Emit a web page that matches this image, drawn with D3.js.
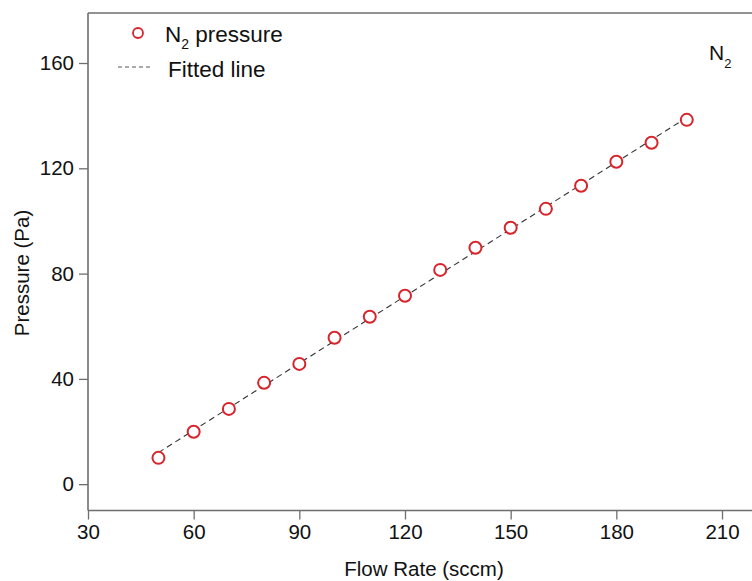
<!DOCTYPE html>
<html>
<head>
<meta charset="utf-8">
<script src="https://cdn.jsdelivr.net/npm/d3@7"></script>
<style>
  html, body { margin: 0; padding: 0; background: #fff; }
  svg { display: block; font-family: "Liberation Sans", Arial, sans-serif; }
</style>
</head>
<body>
<svg id="chart" width="752" height="581"></svg>
<script>
// Flow rate (sccm) and measured N2 pressure (Pa)
const flowRate = [50, 60, 70, 80, 90, 100, 110, 120, 130, 140, 150, 160, 170, 180, 190, 200];
const pressure = [10.0, 19.9, 28.6, 38.5, 45.7, 55.6, 63.6, 71.6, 81.4, 89.8, 97.4, 104.6, 113.4, 122.5, 129.7, 138.4];

// Linear fit end points
const fitFlow = [50, 200];
const fitPressure = [12.0, 139.3];

const xTicks = [30, 60, 90, 120, 150, 180, 210];
const yTicks = [0, 40, 80, 120, 160];

const W = 752, H = 581;
const svg = d3.select("#chart");

const x = d3.scaleLinear().domain([30, 210]).range([88, 722]);
const y = d3.scaleLinear().domain([-10, 179]).range([510.5, 13]);

const axisColor = "#6e6e6e";
const red = "#d9232b";

// Axes
const gx = svg.append("g")
  .attr("transform", `translate(0,${y(-10)})`)
  .call(d3.axisBottom(x).tickValues(xTicks).tickSize(9).tickPadding(5).tickFormat(d3.format("d")));
const gy = svg.append("g")
  .attr("transform", `translate(${x(30)},0)`)
  .call(d3.axisLeft(y).tickValues(yTicks).tickSize(9).tickPadding(5).tickFormat(d3.format("d")));
[gx, gy].forEach(g => {
  g.select(".domain").remove();
  g.selectAll(".tick line").attr("stroke", axisColor).attr("stroke-width", 1.3);
  g.selectAll(".tick text").attr("fill", "#111").style("font-size", "20.5px");
});

// Frame lines: left, bottom, top
const frame = svg.append("g").attr("stroke", axisColor).attr("stroke-width", 1.6).attr("fill", "none");
frame.append("line").attr("x1", x(30)).attr("x2", x(30)).attr("y1", y(179)).attr("y2", y(-10));
frame.append("line").attr("x1", x(30)).attr("x2", W).attr("y1", y(-10)).attr("y2", y(-10));
frame.append("line").attr("x1", x(30)).attr("x2", W).attr("y1", y(179)).attr("y2", y(179));

// Fitted line
const fitData = fitFlow.map((f, i) => [f, fitPressure[i]]);
svg.append("path")
  .datum(fitData)
  .attr("fill", "none")
  .attr("stroke", "#333")
  .attr("stroke-width", 1.1)
  .attr("stroke-dasharray", "6,4")
  .attr("d", d3.line().x(d => x(d[0])).y(d => y(d[1])));

// Measured points
svg.append("g").selectAll("circle")
  .data(flowRate.map((f, i) => [f, pressure[i]]))
  .join("circle")
  .attr("cx", d => x(d[0]))
  .attr("cy", d => y(d[1]))
  .attr("r", 6)
  .attr("fill", "#fff")
  .attr("stroke", red)
  .attr("stroke-width", 2);

// Axis titles
svg.append("text")
  .attr("x", 424).attr("y", 576)
  .attr("text-anchor", "middle")
  .style("font-size", "20.5px").attr("fill", "#111")
  .text("Flow Rate (sccm)");
svg.append("text")
  .attr("transform", "translate(29,273) rotate(-90)")
  .attr("text-anchor", "middle")
  .style("font-size", "20.5px").attr("fill", "#111")
  .text("Pressure (Pa)");

// Legend
const legend = svg.append("g");
legend.append("circle").attr("cx", 138).attr("cy", 33).attr("r", 5)
  .attr("fill", "#fff").attr("stroke", red).attr("stroke-width", 1.8);
const l1 = legend.append("text").attr("x", 165).attr("y", 42).style("font-size", "22.5px").attr("fill", "#111");
l1.append("tspan").text("N");
l1.append("tspan").attr("dy", 7).style("font-size", "14px").text("2");
l1.append("tspan").attr("dy", -7).text(" pressure");
legend.append("line").attr("x1", 118).attr("x2", 153).attr("y1", 67).attr("y2", 67)
  .attr("stroke", "#555").attr("stroke-width", 1).attr("stroke-dasharray", "4,3");
legend.append("text").attr("x", 168).attr("y", 77).style("font-size", "22.5px").attr("fill", "#111")
  .text("Fitted line");

// Gas label
const gas = svg.append("text").attr("x", 709).attr("y", 60).style("font-size", "21px").attr("fill", "#111");
gas.append("tspan").text("N");
gas.append("tspan").attr("dy", 8).style("font-size", "13px").text("2");
</script>
</body>
</html>
